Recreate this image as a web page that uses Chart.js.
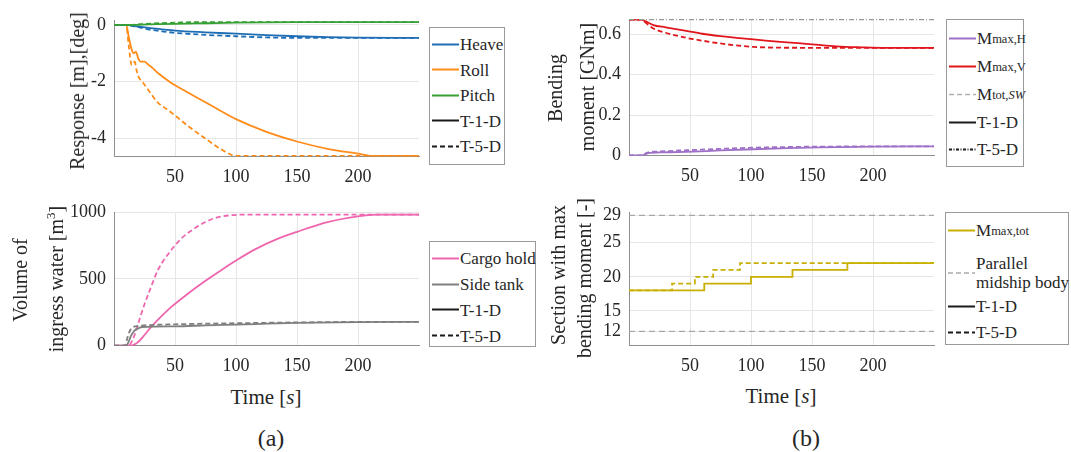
<!DOCTYPE html>
<html>
<head>
<meta charset="utf-8">
<script src="https://cdn.jsdelivr.net/npm/chart.js@4.4.0/dist/chart.umd.min.js"></script>
<style>
  body { margin: 0; background: #fff; font-family: "Liberation Serif", "DejaVu Serif", serif; color: #262626; }
  #fig { position: relative; width: 1071px; height: 452px; overflow: hidden; }
  canvas { position: absolute; }
  .ytitle, .xtitle, .tag { position: absolute; white-space: nowrap; font-size: 20px; line-height: 1; }
  .ytitle { transform: translate(-50%, -50%) rotate(-90deg); }
  .xtitle, .tag { transform: translate(-50%, -50%); }
  .xtitle { font-size: 21px; }
  .tag { font-size: 24px; }
  .legend { position: absolute; border: 1px solid #9a9a9a; background: #fff; box-sizing: border-box; font-size: 17px; font-family: "Liberation Serif", serif; }
  .item { position: absolute; left: 2px; display: flex; align-items: center; white-space: nowrap; transform: translateY(-50%); line-height: 19px; }
  .item svg { width: 27px; height: 6px; flex: none; margin-right: 1px; }
  sub { font-size: 12.5px; vertical-align: -7px; line-height: 0; }
</style>
</head>
<body>
<div id="fig">
  <canvas id="resp" width="422" height="190" style="left:0;top:0"></canvas>
  <canvas id="bend" width="396" height="190" style="left:540px;top:0"></canvas>
  <canvas id="vol" width="422" height="190" style="left:0;top:190px"></canvas>
  <canvas id="sect" width="396" height="190" style="left:540px;top:190px"></canvas>

  <div class="ytitle" style="left:77px;top:91px">Response [m],[deg]</div>
  <div class="ytitle" style="left:20px;top:280px">Volume of</div>
  <div class="ytitle" style="left:55px;top:279px">ingress water [m<sup style="font-size:13px">3</sup>]</div>
  <div class="ytitle" style="left:555px;top:88px">Bending</div>
  <div class="ytitle" style="left:587px;top:87px">moment [GNm]</div>
  <div class="ytitle" style="left:558px;top:275px">Section with max</div>
  <div class="ytitle" style="left:584px;top:278px">bending moment [-]</div>
  <div class="xtitle" style="left:266px;top:397px">Time [<i>s</i>]</div>
  <div class="xtitle" style="left:781px;top:396px">Time [<i>s</i>]</div>
  <div class="tag" style="left:271px;top:438px">(a)</div>
  <div class="tag" style="left:806px;top:438px">(b)</div>

  <div class="legend" style="left:429px;top:27px;width:76px;height:138px">
    <div class="item" style="top:16px"><svg><line x1="0" y1="3" x2="27" y2="3" stroke="#1f6db5" stroke-width="2"/></svg>Heave</div>
    <div class="item" style="top:41.5px"><svg><line x1="0" y1="3" x2="27" y2="3" stroke="#ff8c1a" stroke-width="2"/></svg>Roll</div>
    <div class="item" style="top:67px"><svg><line x1="0" y1="3" x2="27" y2="3" stroke="#36a035" stroke-width="2"/></svg>Pitch</div>
    <div class="item" style="top:92.5px"><svg><line x1="0" y1="3" x2="27" y2="3" stroke="#1a1a1a" stroke-width="2"/></svg>T-1-D</div>
    <div class="item" style="top:118px"><svg><line x1="0" y1="3" x2="27" y2="3" stroke="#1a1a1a" stroke-width="2" stroke-dasharray="5,3"/></svg>T-5-D</div>
  </div>

  <div class="legend" style="left:946px;top:19px;width:78px;height:148px">
    <div class="item" style="top:18px"><svg><line x1="0" y1="3" x2="27" y2="3" stroke="#9e70c8" stroke-width="2"/></svg>M<sub>max,H</sub></div>
    <div class="item" style="top:46px"><svg><line x1="0" y1="3" x2="27" y2="3" stroke="#e0161c" stroke-width="2"/></svg>M<sub>max,V</sub></div>
    <div class="item" style="top:74px"><svg><line x1="0" y1="3" x2="27" y2="3" stroke="#b0b0b0" stroke-width="1.5" stroke-dasharray="5,3"/></svg>M<sub>tot,<i>SW</i></sub></div>
    <div class="item" style="top:102px"><svg><line x1="0" y1="3" x2="27" y2="3" stroke="#1a1a1a" stroke-width="2"/></svg>T-1-D</div>
    <div class="item" style="top:129px"><svg><line x1="0" y1="3" x2="27" y2="3" stroke="#1a1a1a" stroke-width="1.8" stroke-dasharray="3,1.5,1,1.5"/></svg>T-5-D</div>
  </div>

  <div class="legend" style="left:429px;top:241px;width:107px;height:106px">
    <div class="item" style="top:16px"><svg><line x1="0" y1="3" x2="27" y2="3" stroke="#ee66ae" stroke-width="2"/></svg>Cargo hold</div>
    <div class="item" style="top:42px"><svg><line x1="0" y1="3" x2="27" y2="3" stroke="#7f7f7f" stroke-width="2"/></svg>Side tank</div>
    <div class="item" style="top:67.5px"><svg><line x1="0" y1="3" x2="27" y2="3" stroke="#1a1a1a" stroke-width="2"/></svg>T-1-D</div>
    <div class="item" style="top:93.5px"><svg><line x1="0" y1="3" x2="27" y2="3" stroke="#1a1a1a" stroke-width="2" stroke-dasharray="5,3"/></svg>T-5-D</div>
  </div>

  <div class="legend" style="left:945px;top:212px;width:124px;height:133px">
    <div class="item" style="top:17px"><svg><line x1="0" y1="3" x2="27" y2="3" stroke="#c8b000" stroke-width="2"/></svg>M<sub>max,tot</sub></div>
    <div class="item" style="top:60px"><svg><line x1="0" y1="3" x2="27" y2="3" stroke="#aaaaaa" stroke-width="1.5" stroke-dasharray="5,3"/></svg><span>Parallel<br>midship body</span></div>
    <div class="item" style="top:93px"><svg><line x1="0" y1="3" x2="27" y2="3" stroke="#1a1a1a" stroke-width="2"/></svg>T-1-D</div>
    <div class="item" style="top:119px"><svg><line x1="0" y1="3" x2="27" y2="3" stroke="#1a1a1a" stroke-width="2" stroke-dasharray="5,3"/></svg>T-5-D</div>
  </div>
</div>

<script>
// time axis shared by all four panels
const timeTicks = [50, 100, 150, 200];

// (a) top: ship response, [time, value]
const heave1 = [[0, 0], [10, 0], [20, -0.06], [30, -0.11], [50, -0.2], [75, -0.26], [100, -0.31], [125, -0.36], [150, -0.4], [175, -0.43], [200, -0.45], [250, -0.46]];
const heave5 = [[0, 0], [10, 0], [20, -0.08], [30, -0.17], [40, -0.23], [50, -0.28], [75, -0.35], [100, -0.4], [125, -0.44], [150, -0.46], [250, -0.46]];
const roll1 = [[0, 0], [10, 0], [12, -0.4], [14, -0.8], [16, -1.0], [18, -0.95], [20, -1.2], [22, -1.3], [25, -1.3], [28, -1.4], [31, -1.5], [36, -1.7], [47, -2.05], [57, -2.3], [66, -2.52], [83, -2.93], [100, -3.33], [125, -3.78], [150, -4.12], [175, -4.38], [200, -4.55], [212, -4.63], [250, -4.63]];
const roll5 = [[0, 0], [10, 0], [12, -0.7], [14.5, -1.42], [16, -1.35], [17, -1.3], [18.5, -1.6], [20, -1.82], [24, -2.05], [28, -2.29], [36, -2.75], [44, -3.0], [50, -3.2], [60, -3.55], [75, -4.02], [90, -4.45], [100, -4.63], [250, -4.63]];
const pitch1 = [[0, 0], [10, 0], [30, 0.02], [50, 0.04], [75, 0.06], [100, 0.08], [150, 0.1], [250, 0.1]];
const pitch5 = [[0, 0], [10, 0], [30, 0.05], [50, 0.08], [70, 0.1], [250, 0.1]];
const responseTicks = [-4, -2, 0];

// (a) bottom: ingress water volume
const cargo1 = [[0, 0], [14, 0], [20, 30], [25, 80], [30, 135], [40, 230], [47, 290], [60, 385], [75, 485], [90, 578], [102, 648], [116, 722], [133, 795], [150, 852], [175, 925], [200, 968], [215, 980], [250, 980]];
const cargo5 = [[0, 0], [12, 0], [15, 40], [18, 110], [21, 200], [25, 310], [30, 430], [36, 566], [47, 716], [55, 800], [64, 865], [75, 925], [83, 955], [95, 975], [105, 980], [250, 980]];
const side1 = [[0, 0], [10, 0], [12, 30], [14, 75], [17, 115], [20, 130], [23, 140], [50, 145], [75, 152], [100, 158], [116, 162], [150, 170], [200, 176], [250, 178]];
const side5 = [[0, 0], [9, 0], [11, 60], [13, 110], [15, 135], [18, 145], [25, 152], [50, 160], [100, 168], [150, 174], [200, 178], [250, 178]];
const volumeTicks = [0, 500, 1000];

// (b) top: bending moment
const mh1 = [[0, 0], [11, 0], [14, 0.008], [17, 0.013], [25, 0.015], [47, 0.018], [75, 0.025], [102, 0.031], [130, 0.036], [157, 0.04], [200, 0.044], [250, 0.045]];
const mh5 = [[0, 0], [11, 0], [14, 0.012], [17, 0.017], [25, 0.02], [47, 0.026], [75, 0.033], [102, 0.039], [130, 0.042], [157, 0.044], [250, 0.045]];
const mv1 = [[0, 0.672], [10, 0.672], [14, 0.662], [20, 0.645], [30, 0.634], [47, 0.616], [60, 0.602], [75, 0.59], [90, 0.58], [102, 0.574], [124, 0.562], [150, 0.55], [170, 0.54], [190, 0.535], [210, 0.532], [250, 0.532]];
const mv5 = [[0, 0.672], [10, 0.672], [13, 0.66], [16, 0.645], [20, 0.628], [30, 0.607], [47, 0.582], [60, 0.568], [75, 0.554], [90, 0.543], [102, 0.537], [124, 0.533], [250, 0.532]];
const mtotSW = [[0, 0.672], [250, 0.672]];
const bendTicks = [0, 0.2, 0.4, 0.6];

// (b) bottom: section with max bending moment (steps)
const sec1 = [[0, 18], [61.7, 19], [100, 20], [134, 21], [179, 22], [250, 22]];
const sec5 = [[0, 18], [35.3, 19], [54, 20], [69, 21], [91, 22], [250, 22]];
const midHi = [[0, 29], [250, 29]];
const midLo = [[0, 12], [250, 12]];
const sectionTicks = [12, 15, 20, 25, 29];

const pts = arr => arr.map(p => ({ x: p[0], y: p[1] }));
const DASH = [5, 3];

Chart.defaults.font.family = '"Liberation Serif", serif';

function line(data, color, dashed, extra) {
  return Object.assign({
    data: pts(data),
    borderColor: color,
    borderWidth: 1.8,
    borderDash: dashed ? DASH : [],
    pointRadius: 0,
    fill: false,
    cubicInterpolationMode: 'monotone'
  }, extra || {});
}

const tickFont = { family: '"Liberation Serif", serif', size: 18 };

// box: padding top/right, y-axis width, x-axis height
function makeChart(id, datasets, yMin, yMax, yTicks, box) {
  return new Chart(document.getElementById(id), {
    type: 'line',
    data: { datasets },
    options: {
      responsive: false,
      animation: false,
      layout: { padding: { top: box.top, right: box.right, left: 0, bottom: 0 } },
      plugins: { legend: { display: false }, tooltip: { enabled: false } },
      scales: {
        x: {
          type: 'linear', min: 0, max: 250,
          afterBuildTicks: s => { s.ticks = timeTicks.map(v => ({ value: v })); },
          afterFit: s => { s.height = box.xh; },
          grid: { color: '#e6e6e6', drawTicks: false },
          border: { color: '#8f8f8f' },
          ticks: { font: tickFont, color: '#262626', padding: 10, maxRotation: 0, callback: v => String(v) }
        },
        y: {
          type: 'linear', min: yMin, max: yMax,
          afterBuildTicks: s => { s.ticks = yTicks.map(v => ({ value: v })); },
          afterFit: s => { s.width = box.yw; },
          grid: { color: '#e6e6e6', drawTicks: false },
          border: { color: '#8f8f8f' },
          ticks: { font: tickFont, color: '#262626', padding: 8, callback: v => String(v) }
        }
      }
    }
  });
}

makeChart('resp', [
  line(pitch1, '#36a035', false),
  line(pitch5, '#36a035', true),
  line(heave1, '#1f6db5', false),
  line(heave5, '#1f6db5', true),
  line(roll1, '#ff8c1a', false),
  line(roll5, '#ff8c1a', true)
], -4.65, 0.15, responseTicks, { top: 20.7, right: 3, yw: 114, xh: 33.5 });

makeChart('bend', [
  line(mtotSW, '#9a9a9a', false, { borderWidth: 1.2, borderDash: [5, 2, 1, 2] }),
  line(mv1, '#e0161c', false),
  line(mv5, '#e0161c', true),
  line(mh1, '#9e70c8', false),
  line(mh5, '#9e70c8', true)
], 0, 0.675, bendTicks, { top: 19, right: 2, yw: 89, xh: 34.5 });

makeChart('vol', [
  line(side1, '#7f7f7f', false),
  line(side5, '#7f7f7f', true),
  line(cargo1, '#ee66ae', false),
  line(cargo5, '#ee66ae', true)
], 0, 1000, volumeTicks, { top: 22, right: 3, yw: 114, xh: 34.3 });

makeChart('sect', [
  line(midHi, '#a8a8a8', false, { borderWidth: 1.3, borderDash: [6, 4] }),
  line(midLo, '#a8a8a8', false, { borderWidth: 1.3, borderDash: [6, 4] }),
  line(sec5, '#c8b000', true, { stepped: true }),
  line(sec1, '#c8b000', false, { stepped: true })
], 10, 29.5, sectionTicks, { top: 22, right: 2, yw: 89, xh: 35 });
</script>
</body>
</html>
